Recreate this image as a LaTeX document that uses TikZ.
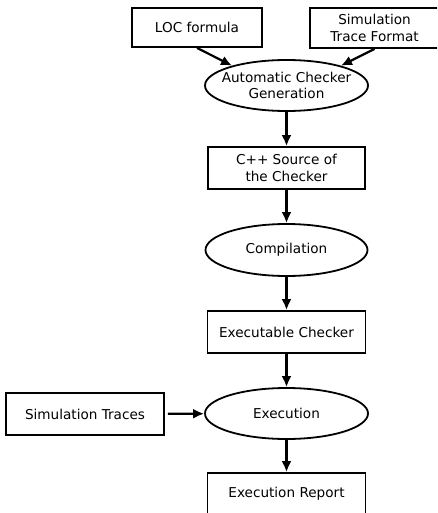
\documentclass[tikz,border=0pt]{standalone}
\usepackage{fontspec}
\setmainfont{DejaVu Sans}
\usetikzlibrary{arrows.meta,shapes.geometric}

\tikzset{
    box/.style={draw=black, line width=1.8pt, rectangle, align=center, inner sep=0pt},
    proc/.style={draw=black, line width=1.8pt, ellipse, align=center, inner sep=0pt},
    flow/.style={line width=2.2pt, ->}
}

\begin{document}
\begin{tikzpicture}[
    x=1pt, y=-1pt,
    >={Latex[length=11pt, width=10pt]},
    font=\fontsize{13.6}{16.5}\selectfont
]

% Canvas (437 x 513)
\useasboundingbox (0,0) rectangle (437,513);
\clip (0,0) rectangle (437,513);

% 1. INPUTS (top row)
\node[box, minimum width=130pt, minimum height=39pt] (LOC) at (197, 27.5) {LOC formula};
\node[box, minimum width=129pt, minimum height=40pt] (FMT) at (374.5, 28) {Simulation\\Trace Format};

% 2. CHECKER GENERATION
\node[proc, inner xsep=-7.5pt, minimum width=163pt, minimum height=51pt] (GEN) at (286.5, 85.5) {Automatic Checker\\Generation};
\node[box, minimum width=157pt, minimum height=42pt] (SRC) at (286.5, 168) {C++ Source of\\the Checker};

% 3. COMPILATION
\node[proc, minimum width=162pt, minimum height=52pt] (COMP) at (286.5, 250) {Compilation};
\node[box, minimum width=158pt, minimum height=42pt] (EXE) at (286.5, 332) {Executable Checker};

% 4. EXECUTION
\node[proc, minimum width=163pt, minimum height=51pt] (RUN) at (286.5, 413.5) {Execution};
\node[box, minimum width=158pt, minimum height=42pt] (TRACES) at (85, 414) {Simulation Traces};
\node[box, minimum width=158pt, minimum height=42pt] (REP) at (286.5, 494) {Execution Report};

% 5. CONNECTORS
\draw[flow] (LOC.south) -- (GEN.160);
\draw[flow] (FMT.south) -- (GEN.20);
\draw[flow] (GEN) -- (SRC);
\draw[flow] (SRC) -- (COMP);
\draw[flow] (COMP) -- (EXE);
\draw[flow] (EXE) -- (RUN);
\draw[flow, shorten <=3pt] (TRACES) -- (RUN);
\draw[flow] (RUN) -- (REP);

\end{tikzpicture}
\end{document}
